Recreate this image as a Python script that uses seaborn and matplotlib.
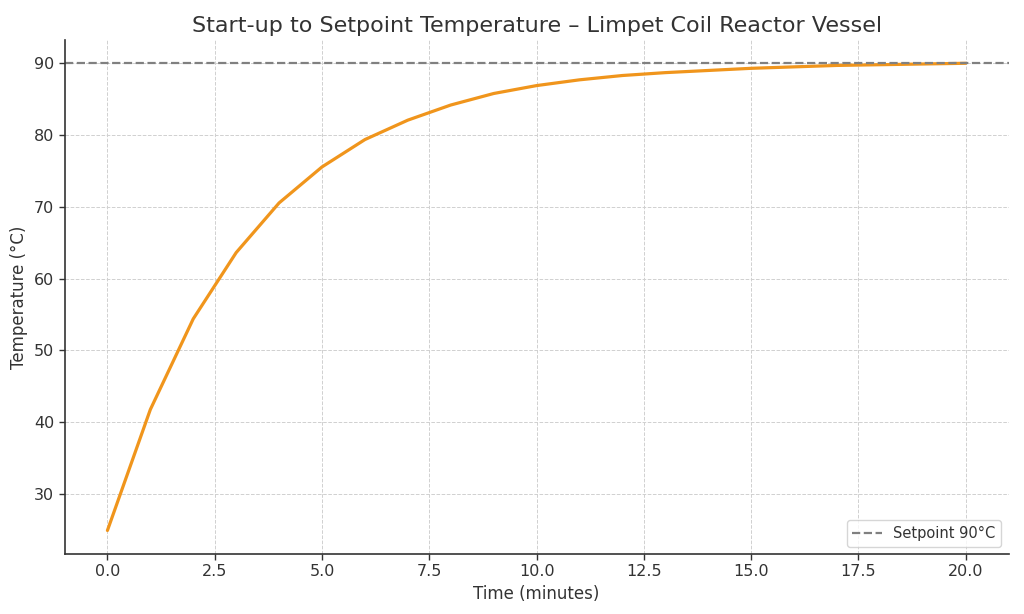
import matplotlib
matplotlib.use("Agg")
import matplotlib.pyplot as plt
import seaborn as sns
import pandas as pd

# values
time_min = [0, 1, 2, 3, 4, 5, 6, 7, 8, 9, 10, 11, 12, 13, 14, 15, 16, 17, 18, 19, 20]
temp_c = [25.0, 41.8, 54.4, 63.6, 70.5, 75.5, 79.3, 82.0, 84.1, 85.7, 86.8,
          87.6, 88.2, 88.6, 88.9, 89.2, 89.4, 89.6, 89.7, 89.8, 89.9]
setpoint = 90

df = pd.DataFrame({"time": time_min, "temp": temp_c})

sns.set_theme(style="whitegrid")
plt.rcParams['font.family'] = ['DejaVu Sans']
plt.rcParams['text.color'] = '#333333'
plt.rcParams['axes.labelcolor'] = '#333333'
plt.rcParams['xtick.color'] = '#333333'
plt.rcParams['ytick.color'] = '#333333'

fig, ax = plt.subplots(figsize=(10.24, 6.14), dpi=100)
fig.subplots_adjust(left=0.063, right=0.985, top=0.935, bottom=0.098)

sns.lineplot(data=df, x="time", y="temp", ax=ax, color="#F0951C", linewidth=2.3)
ax.axhline(setpoint, color="#808080", linestyle="--", linewidth=1.6, label="Setpoint 90°C")

ax.grid(True, linestyle="--", linewidth=0.7, color="#d0d0d0")
for side in ["top", "right"]:
    ax.spines[side].set_visible(False)
for side in ["left", "bottom"]:
    ax.spines[side].set_color("#333333")
    ax.spines[side].set_linewidth(1.2)
ax.tick_params(axis="both", length=4, width=1, labelsize=11.5, bottom=True, left=True)

ax.set_title("Start-up to Setpoint Temperature – Limpet Coil Reactor Vessel", fontsize=16)
ax.set_xlabel("Time (minutes)", fontsize=12)
ax.set_ylabel("Temperature (°C)", fontsize=12)
ax.legend(loc="lower right", fontsize=10.5)

plt.savefig("out.png")
plt.close()
